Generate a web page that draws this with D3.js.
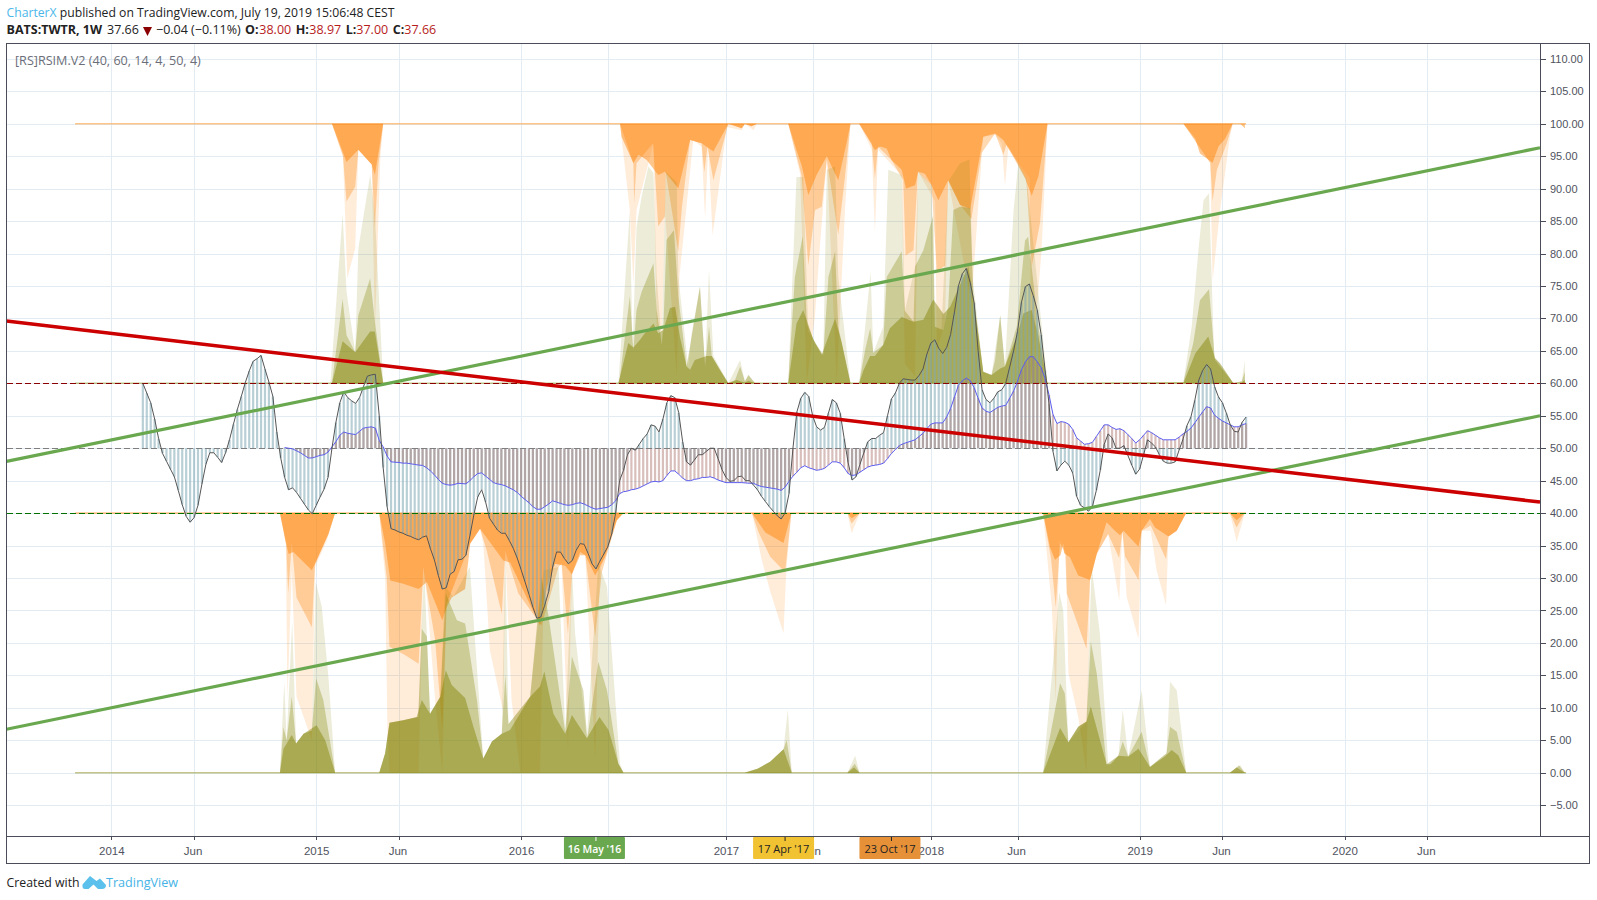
<!DOCTYPE html>
<html><head><meta charset="utf-8">
<script src="https://cdn.jsdelivr.net/npm/d3@7"></script>
<style>
html,body{margin:0;padding:0;background:#fff}
svg{display:block}
text{font-family:"Open Sans","Noto Sans",sans-serif}
.ax text{font-family:"Liberation Sans",Arial,sans-serif}
</style></head><body>
<svg id="c" width="1597" height="900"></svg>
<script>
// Tick data. X is counted in weekly bars from the first bar of 2014.
const xTickWeeks=[0,21,52,73,104,126,156,178,208,230,261,282,313,334];
const xTickLabels=["2014","Jun","2015","Jun","2016","","2017","Jun","2018","Jun","2019","Jun","2020","Jun"];
const yTickValues=[-5,0,5,10,15,20,25,30,35,40,45,50,55,60,65,70,75,80,85,90,95,100,105,110];
const levels=[[60,"#8b0000"],[50,"#7f7f7f"],[40,"#007000"]];
const markerWeeks=[123,171,198];
const markerLabels=["16 May '16","17 Apr '17","23 Oct '17"];

// RSI: one value per week starting at week 8
const rsiStart=8;
const rsiValues=[60,58.5,57,54.5,51.5,49.2,48,46.8,45.6,43.5,41.3,39.5,38.6,39.3,41.2,44.5,47.5,49.3,49.3,48.6,47.8,49.3,51.3,53.7,56,58,60.1,61.9,63.4,63.8,64.3,62.2,60.2,58,52.5,48.5,45.5,43.6,43.9,43.2,42.3,41.4,40.5,39.9,41.2,42.5,43.7,45.5,50,54,57,58.7,57.8,57.3,56.9,57.8,59.5,61.1,61.3,61.4,55,47,41,37.6,37.4,37.1,36.9,36.6,36.4,36.1,35.9,36.3,36.5,34.5,32.8,30.4,28.3,28.5,30.6,31,32.8,32.9,33.5,36.5,39.7,42.5,43.6,41.7,39.2,38.3,37.4,36.9,36.9,35.8,34.6,33.1,31.3,29.4,27.5,25.5,23.8,24,25.8,27.9,31.7,34,34,33,32.2,32.7,34.3,35.3,35.2,33.8,32.2,31.4,32.6,33.7,34.8,36.8,40,45,46.6,49,50,49.7,50.6,51.5,52.2,53.6,53.4,52.5,54.5,57,58.1,57.8,55.5,51,47.9,47.4,48.2,49,49,49.5,50,50,48.4,46.7,45.5,44.9,45,45.6,45.7,45,45,44.3,43.6,42.6,41.8,41,40.3,39.6,39.1,40,43,50,55.6,57.7,58.6,58,55,53.3,52.8,53.2,55.4,57.5,57,55.4,51.5,47.8,45.1,45.6,47.5,49.3,51,51.5,51.5,52,52.4,55,57.6,58.5,60,60.7,60.6,60.5,60.5,61.2,62.2,64.5,66.2,66.7,65.4,64.6,65.5,67.5,71,75,76.9,77.7,75.5,72.4,65,59,57.5,57,57.7,58.7,59,60,62.5,65,68,72.5,74.9,75.3,73.5,71.3,67.5,62,56.8,49.5,46.5,47.4,48,47.4,46.2,42.6,41.2,40.8,40.3,41,43.5,46.6,50.6,52.2,51.6,50,50,50.4,48.9,47.4,46,46.8,49,51.3,50.8,50.2,49,48,47.7,47.7,47.9,49.7,51.4,53.5,54.8,57.4,60.5,62,62.9,62.2,59.5,57.9,57,55.4,53.6,52.6,52.5,54,54.8];

// RSI moving average: one value per week starting at week 44
const maStart=44;
const maValues=[50.1,50,49.9,49.6,49.3,48.9,48.5,48.5,48.7,48.9,49,49.4,50.2,51,52,52.5,52.3,52.2,52.1,52.6,53.1,53.2,53.3,53.1,51.2,50.2,48.8,47.9,47.85,47.8,47.7,47.7,47.6,47.5,47.4,47.35,47,46.5,45.9,45.2,44.6,44.4,44.3,44.4,44.6,44.55,44.5,45,45.6,46.1,46.2,45.7,45.2,44.7,44.5,44.4,44.2,43.9,43.6,43.2,42.6,42.1,41.6,41,40.6,40.6,41,41.4,41.9,41.7,41.5,41.3,41.2,41.3,41.5,41.6,41.4,41.1,40.8,40.6,40.7,40.8,40.9,41.3,41.9,43,43.3,43.4,43.6,43.7,43.9,44.2,44.5,44.8,44.9,44.8,45,45.8,46.5,46.5,46,45.4,45,45,45.2,45.3,45.5,45.5,45.6,45.4,45.1,44.9,44.7,44.7,44.7,44.7,44.7,44.65,44.6,44.6,44.3,44.1,44,43.9,43.8,43.7,43.5,44,44.9,45.7,46.3,47,47.3,47,46.8,46.6,46.7,46.9,47.4,47.9,47.9,47.7,47,46.1,45.8,45.9,46.3,46.7,47.1,47.3,47.4,47.5,47.7,48.4,49.2,49.8,50.4,50.7,50.9,51.1,51.3,51.8,52.3,53,53.7,53.9,53.9,53.9,54.8,56.1,57.9,59.7,60.4,60.8,60.4,59.3,57.7,56.2,55.7,55.5,55.9,56.3,56.5,56.6,57.7,58.8,60.3,62.1,63.3,64.1,64.1,63.3,62.4,60.7,58.2,55.2,53.8,54.1,54,53.7,52.9,51.6,51.1,50.6,50.7,50.9,51.8,52.7,53.6,53.6,53.2,52.9,53,52.7,52.1,51.5,50.8,51.3,52,52.7,52.4,52,51.6,51.3,51.3,51.3,51.3,51.7,52.2,52.6,53.1,53.9,54.8,55.6,56.4,56.2,55.1,54.6,54.2,53.9,53.6,53.3,53.3,53.6,53.8];

// Areas hanging from 100: [week, value]
const orangeTopDark=[[-9.2,100],[56,100],[57.2,98.1],[59.7,94.1],[62.7,96],[66.1,93.7],[66.9,92.1],[69,100],[129.1,100],[129.5,98],[132.5,93.9],[133.8,95.2],[135.9,94.4],[138.8,92.1],[140.5,92.6],[143.9,90],[146.9,97.5],[149.8,97],[152.8,95.7],[156.6,100],[160,99.3],[160.8,100],[162.5,99.6],[163.8,100],[171.8,100],[173.9,95.9],[175.2,93.6],[176.9,89],[179,92.1],[181.6,95],[184.5,91.3],[186.6,97],[187.6,100],[189.8,100],[192.1,97.7],[193.8,95.9],[195.1,96.5],[196.8,96.2],[198,94.4],[200.6,92.9],[201.7,90],[204,90.5],[204.8,92.6],[206.5,92.3],[208.2,90.5],[209.9,88.2],[212.4,91.3],[215.4,87.5],[218,86.9],[221.3,98],[224.3,98.5],[226.4,97.5],[229.4,94.4],[231.9,91.6],[233.6,88.9],[235.3,91.9],[237.6,100],[272.1,100],[275.1,97.7],[276.3,95.4],[279.5,94],[281,96.5],[282.7,97.7],[284.6,100],[286.5,100],[287.7,99.3]];
const orangeTopMid=[[-9.2,100],[56,100],[58.8,95],[59.7,88],[61.9,90.3],[62.7,96],[66.1,93.7],[66.9,83.9],[67.8,93.7],[69,100],[129.1,100],[132.5,93.9],[132.7,87.7],[133.3,93.9],[137.5,97],[138,92.3],[138.8,84.2],[140.5,85.7],[140.7,92.6],[143.9,80.3],[144.8,87],[146.9,97.5],[149.8,97],[150.5,92.5],[151.3,96.5],[152.8,91.3],[156.6,100],[160,99.3],[160.8,100],[162.5,99.6],[163.8,100],[171.8,100],[175.2,92],[176.9,78.2],[178.6,86.7],[180.3,87.2],[181.6,94.5],[184.5,82.9],[186.2,91.8],[187.6,100],[189.8,100],[193,97],[193.8,91.6],[194.6,96.5],[198,94.4],[201,91.3],[201.6,79.7],[203.6,80.5],[204.7,92.6],[208.2,90.5],[209.5,77.3],[211.6,78.1],[212.4,91.3],[215.4,87.5],[218.3,85.3],[220.9,95.5],[224.3,98.5],[226.4,95.2],[227.2,96.8],[230.2,93.9],[232.2,91.6],[233.6,78],[235.7,84.7],[237.6,100],[272.1,100],[278.9,94],[279.5,88],[280.6,92.9],[283.1,97],[284.6,100]];
const orangeTopLight=[[-9.2,100],[56,100],[58.8,95],[59.9,76.2],[61.9,80.8],[62.7,96],[66.1,93.7],[66.9,68],[68.3,95],[69,100],[129.1,100],[131.6,86.7],[132.5,75.4],[133.3,86.7],[137.6,97],[138.4,68.7],[139.7,67.7],[140.5,86.7],[143.5,61],[144.2,76.5],[147.7,97.5],[149.8,96.5],[150.7,85.4],[151.5,96.5],[152.6,82.8],[156.2,99.5],[160,99],[160.8,100],[163,99],[163.8,100],[171.8,100],[174.8,92.3],[176.5,60],[178.6,70.5],[179.9,81.6],[181.6,94.5],[184.1,60],[186.2,86.7],[187.6,100],[189.8,100],[193,96],[193.8,83.4],[194.6,96],[200.6,92],[201.4,63],[204,61],[204.8,92.6],[209.1,88],[209.5,65.1],[211.6,69.2],[212.4,91.3],[218.3,72.3],[220.9,95],[221.3,98],[224.3,98.3],[226,97],[226.8,90.4],[227.7,96.5],[230.2,93.9],[233.1,91.6],[233.4,60],[236.1,80.5],[237.6,100],[272.1,100],[278.9,94],[279.5,75.8],[281.4,86.7],[283.9,98],[284.6,100]];

// Areas rising from 60: [week, value]
const greenHighDark=[[-9.2,60],[56,60],[58.7,66.5],[61.9,64.8],[65.7,68],[66.9,68],[69,60],[128.7,60],[131.2,66.2],[132.5,65.5],[134.2,66.7],[135.4,67.7],[137.6,69.2],[138.8,67.7],[140.1,68.2],[141.8,71.6],[143.1,71.8],[144.3,67.2],[146,62.6],[146.9,62.1],[148.1,63.6],[151.1,64.2],[152.4,64.2],[154.5,62],[156.6,60],[158.7,60.5],[160.8,60.1],[161.7,60.4],[163.4,60],[171.8,60],[173.9,69.2],[175.6,71.3],[178.2,66.7],[180.3,64.4],[183.7,70],[185.4,66.2],[187.6,60],[189.8,60],[190.9,62],[192.6,64.2],[193.8,64.2],[195.9,65.9],[197.6,68.5],[200.6,70.2],[203.6,69.5],[206.1,69.8],[208.6,72.9],[211.2,70.7],[212.9,71.8],[217.5,78],[218.8,73.4],[221.3,61.8],[223.4,61.3],[225.6,62.3],[226.8,62.6],[229.8,67.2],[231.5,70.8],[233.6,71.3],[235.3,67.2],[237.6,60],[272.1,60],[275.1,64.6],[278.4,67.2],[280.1,63.9],[281.4,63.1],[284.8,60],[286.7,60],[287.7,60.5]];
const greenHighMid=[[-9.2,60],[56,60],[58.7,73],[59.7,67.4],[61.9,64.8],[62.7,70.5],[65.7,76.2],[66.9,69.5],[69,60],[128.7,60],[129.1,61],[131.6,73.4],[132.5,65.1],[133.3,71.3],[134.6,74.1],[137.6,78.5],[138.4,71.3],[139.7,65.9],[140.1,68.2],[140.9,82.1],[142.8,83.6],[143.9,73.4],[146,62.6],[147.3,67.2],[149.4,74.9],[150.7,62.6],[151.7,68.7],[152.4,64.2],[156.6,60],[158.3,60.5],[159.6,62.6],[160.8,60.3],[161.7,61.3],[163.4,60],[171.8,60],[173.5,76.4],[175.5,82.7],[176.5,69.2],[178.6,66.2],[180.7,64.4],[182,76.4],[183.7,80.3],[184.5,68.7],[187.6,60],[189.8,60],[191.3,65.1],[192.6,68.5],[193.4,64.7],[195.9,65.9],[196.8,76.4],[200.6,80.3],[201.4,71.2],[203.6,69.5],[204,78],[206.1,80.5],[208.6,85.9],[209,68.7],[211.2,68.2],[212.4,71.8],[213.7,86.7],[215.4,87.2],[218,87],[218.8,73.4],[221.3,61.8],[223.4,61.3],[224.3,63.6],[225.6,70.5],[226.8,62.6],[229.8,68.7],[231.9,82],[232.7,82.6],[235.3,68.7],[237.6,60],[272.1,60.2],[274.6,66.2],[276.3,72.8],[278.6,74.5],[280.1,63.6],[284.8,60],[286.9,60.3],[287.7,61.8]];
const greenHighLight=[[-9.2,60],[55.6,60],[58.7,86.1],[59.7,74.1],[61.9,64.8],[62.7,80.8],[65.7,92.1],[66.9,86],[69,60],[128.7,60],[131.6,86.7],[132.3,65],[133.3,84.1],[134.6,88.8],[136.3,93.4],[137.6,92.4],[138.4,76.5],[139.7,66],[140.7,92.6],[143.5,91],[143.9,76.5],[146.4,62.6],[147.3,67.7],[149.4,74.9],[150.7,62.6],[151.7,77.5],[152.8,64.2],[156.6,60],[159.6,63.6],[160.8,60.3],[161.7,61.3],[163.4,60],[171.8,60],[173.9,91.8],[175.6,91.8],[176.9,68],[178.6,66.4],[180.7,64.2],[181.6,92.9],[183.7,93.4],[184.5,76.4],[187.6,60],[189.8,60],[191.3,68.5],[192.7,77.2],[193.4,64.7],[195.9,68.7],[197.2,92.9],[200.6,92.1],[201.4,71.2],[204,78],[204.8,92.6],[208.2,90.5],[209,68.7],[210.7,68.2],[212.4,91.1],[215.4,93.9],[217.8,94.5],[218.6,76.4],[221.3,61.8],[223.4,61.3],[224.3,65.1],[225.6,70.5],[226.8,62.6],[229,86.7],[230.2,93.9],[232.3,91.6],[234,81.6],[237.6,60],[272.1,60.2],[274.2,68.7],[275.9,80.5],[277.2,88.2],[278.6,89.3],[279.9,64],[284.8,60],[286.9,60.3],[287.7,63.6]];

// Areas hanging from 40: [week, value]
const orangeLowDark=[[-9.2,40],[42.8,40],[44.5,35],[45,33.7],[46.2,34],[50.9,31.2],[52.1,32.7],[55.1,36.8],[56.8,40],[68,40],[69.5,35.3],[70.8,29.6],[74.1,29.1],[78,28.3],[80.1,29.4],[84,23.5],[85.1,25.5],[86.4,27],[89.8,28.3],[91.1,35.3],[93.6,37.6],[99.5,32.7],[101.2,32.4],[108.8,22.7],[110.5,28.6],[112.6,32.2],[115.2,31.9],[116.9,30.6],[119,34],[120.3,33.5],[122.8,30.4],[125.3,33.2],[128.3,38.9],[130,40],[162.6,40],[166,37],[170.6,35.4],[172.6,40],[186.8,40],[187.9,39.2],[190,40],[236.5,40],[238.2,34.8],[239.5,32.8],[240.9,33.5],[241.6,35.3],[241.8,33.8],[243.3,33.2],[245.4,30.4],[248.4,29.7],[250.1,33.7],[252.6,38.6],[254.7,37.3],[256,36.6],[256.9,37.3],[260.7,34.8],[261.5,37.3],[263.6,39.1],[264.9,37.8],[268.3,36.4],[270.4,37.3],[272.8,40],[283.9,40],[285.6,38.9],[287.7,40]];
const orangeLowMid=[[-9.2,40],[42.8,40],[44.4,35],[44.9,27.6],[45.8,35.5],[47,27],[50.9,22.4],[51.7,32.2],[55.1,36.8],[56.8,40],[68,40],[69.9,30.1],[70.6,19.4],[74.1,18.3],[78,16.8],[79.2,31.7],[80.2,27.6],[82.2,20.4],[84,6.6],[85.1,26],[91.1,35.3],[93.6,37.6],[95.3,34.2],[99.1,24.5],[100,34.2],[100.8,32.5],[103.3,27.6],[109.2,22.7],[113.5,31.7],[114.3,32.2],[115.9,21.4],[116.9,30.6],[119,33.5],[120.3,33.5],[122.8,20.9],[124.5,30.9],[128.3,38.9],[130,40],[162.6,40],[164.3,37],[167.2,33.3],[171,30.9],[172.6,40],[186.8,40],[187.9,38.4],[190,40],[236.5,40],[238.5,33],[239.7,25.5],[240.8,35.3],[242.1,33.8],[242.5,27.6],[247.5,19.1],[248.4,29.7],[250.1,33.7],[253,36.8],[255.8,33.1],[256.6,37.3],[257.3,33.3],[260.7,29.7],[261.5,37.3],[263.8,38.1],[267.7,32.9],[268.3,36.4],[270.4,37.3],[272.8,40],[283.9,40],[285.6,37.8],[287.7,40]];
const orangeLowLight=[[-9.2,40],[42.8,40],[44.3,35.3],[44.7,11.1],[45.8,31.2],[47,11.7],[50.9,5],[51.7,31.7],[54.7,35.8],[56.8,40],[68,40],[69.5,30.1],[70.1,6],[70.6,0],[78,0],[79.2,31.7],[80.2,26.5],[82.2,11.1],[84,0],[85.1,26],[91.1,35.3],[93.6,37.6],[94.4,35.3],[96.1,18.8],[99.5,9.3],[100,33.7],[101.6,11.1],[103.8,0],[108.8,0],[109.7,26.5],[112.6,32.2],[114.3,32],[115.9,3.5],[116.9,30.6],[119,33.5],[120.3,33.5],[122.8,2],[124,31.2],[128.3,38.9],[130,40],[162.6,40],[165,33],[167.2,28],[170.6,21.5],[171.3,31],[172.6,40],[186.8,40],[187.9,36.9],[190,40],[236.5,40],[238.7,25.5],[239.7,10.9],[240.6,35.8],[242.3,33.8],[242.9,15.3],[245.4,8.6],[247.5,0],[248.4,29.7],[250.1,33.7],[253,36.8],[255.8,26.5],[256.6,37.3],[257.7,27.1],[260.7,20.6],[261.5,37.3],[263.8,37.3],[265.3,31.2],[267.7,25.8],[268.3,36.4],[270.4,37.3],[272.8,40],[283.9,40],[285.6,35.6],[287.7,40]];

// Areas rising from 0: [week, value]
const greenLowDark=[[-9.2,0],[42.8,0],[43.7,3.7],[45.8,5.8],[46.9,4.5],[48.8,6],[52.1,7.3],[54.3,5],[56.8,0],[68,0],[69.5,3],[70.6,7.7],[74.1,8.1],[77.5,8.6],[78.8,11.2],[80.9,9.1],[83.5,11.7],[84.9,15.8],[86.4,13.5],[89.8,11.5],[91.9,7.1],[94.4,2.2],[96.6,4.8],[99.1,6],[101.2,6.6],[106.3,11.7],[108.8,13.3],[109.9,15.6],[112.2,9.1],[115.2,6],[116.9,8.9],[120.7,5.3],[123.9,8.6],[126.2,6.6],[128.7,1.4],[130,0],[160.7,0],[164,0.6],[167.2,1.7],[170.6,3.6],[172.7,0],[186.8,0],[188.5,0.8],[189.9,0],[236.5,0],[240.8,6.9],[242.9,4.7],[245.4,7.1],[247.5,7.9],[248.6,10.2],[252.6,1.3],[253.6,1.3],[255.6,2.6],[258.1,2.5],[260.7,3.7],[263.6,0.9],[267.4,2.5],[269.1,3.5],[270.8,2.7],[272.8,0],[283.9,0],[285.6,0.8],[287.7,0]];
const greenLowMid=[[-9.2,0],[42.8,0],[43.7,7],[44.5,5],[45.8,11.7],[46.9,4.5],[48.8,6],[50.9,6.5],[52,14.5],[53.8,11.2],[56.8,0],[68,0],[69.5,3],[70.6,7.7],[74.1,8.1],[77.9,8.6],[78.8,22.2],[80.1,21],[80.9,9.1],[83.5,11.7],[84.9,27.6],[87.7,23.5],[89.8,23],[92.8,11.2],[94.4,2.2],[96.6,4.8],[99.1,6],[100,15],[100.8,7.5],[106.3,11.7],[109.2,30.2],[111,24],[115.2,6.3],[116.9,17.9],[119.8,12.7],[120.8,5.3],[123.6,17.1],[125.8,12.7],[128.7,1.4],[130,0],[160.7,0],[164,0.6],[167.2,1.7],[170.6,3.6],[171.4,5],[172.7,0],[186.8,0],[188.7,1.4],[189.9,0],[236.5,0],[240.8,13.8],[242,12.2],[242.9,4.7],[245.4,7.1],[247.5,7.9],[248.6,20.2],[250.1,15.3],[252.6,1.3],[255.6,2.6],[256.7,4.8],[258.1,2.5],[261.5,6.3],[263.6,0.9],[267.8,3],[268.7,7.1],[270.4,6.3],[272.8,0],[283.9,0],[286.2,1.1],[287.7,0]];
const greenLowLight=[[-9.2,0],[42.8,0],[43.9,14],[44.5,5],[45.9,23.3],[46.9,4.5],[48.8,6],[50.9,6.5],[51.9,29.4],[53.4,25.6],[55.1,14.8],[56.8,0],[68,0],[69.5,3],[70.6,7.7],[74.1,8.1],[77.9,8.6],[79.4,31.7],[80.1,21],[80.9,9.1],[83.5,11.7],[84.7,28.7],[86.8,27.1],[91,31.7],[94.4,2.2],[96.6,4.8],[99.1,6],[100,34.3],[100.8,7.5],[106.3,11.7],[109.7,31.2],[113.5,31.7],[115.2,6.3],[116.9,31.7],[117.7,21.5],[120.7,5.3],[123.6,32.3],[125.8,28.7],[129.1,1.4],[130,0],[160.7,0],[164,0.6],[167.2,1.7],[170.6,3.6],[171.7,9.7],[172.7,0],[186.8,0],[188.8,2.6],[189.9,0],[236.5,0],[240.6,27.8],[241.6,25],[242.9,4.7],[247.5,7.9],[248.8,31.7],[250.9,21.5],[253,1.4],[255.6,2.6],[256.7,9.7],[258.1,2.5],[261.5,12.7],[263.6,0.9],[267.8,3],[268.7,14],[270.4,12.7],[272.8,0],[283.9,0],[286.5,1.2],[287.7,0]];

// Trend lines: [week, value] at both ends
const trendRed=[[-26.6,69.6],[362.6,41.7]];
const trendGreenUpper=[[-26.6,47.97],[362.6,96.3]];
const trendGreenLower=[[-26.6,6.7],[362.6,55]];

const svg=d3.select("#c");
const x=d3.scaleLinear().domain([-26.6,362.6]).range([6.5,1540]);
const y=d3.scaleLinear().domain([-9.75,112.36]).range([836,43.5]);
const AX="#4a4c58",GRID="#e3ecf3";

// grid
const g=svg.append("g").attr("shape-rendering","crispEdges");
g.selectAll(".h").data(yTickValues).join("line").attr("x1",x.range()[0]).attr("x2",x.range()[1])
  .attr("y1",d=>Math.round(y(d))+.5).attr("y2",d=>Math.round(y(d))+.5).attr("stroke",GRID);
g.selectAll(".v").data(xTickWeeks).join("line").attr("y1",y.range()[1]).attr("y2",y.range()[0])
  .attr("x1",d=>Math.round(x(d))+.5).attr("x2",d=>Math.round(x(d))+.5).attr("stroke",GRID);

// areas
function area(pts,base,col,op){
  svg.append("path").datum(pts)
    .attr("d",d3.area().x(d=>x(d[0])).y0(y(base)).y1(d=>y(d[1])))
    .attr("fill",col).attr("fill-opacity",op);
}
const OR="#ff8000",OL="#808000",alphas=[.15,.3,.45];
[[orangeTopLight,orangeTopMid,orangeTopDark,100,OR],[greenHighLight,greenHighMid,greenHighDark,60,OL],
 [orangeLowLight,orangeLowMid,orangeLowDark,40,OR],[greenLowLight,greenLowMid,greenLowDark,0,OL]]
 .forEach(s=>{[0,1,2].forEach(i=>area(s[i],s[3],s[4],alphas[i]));
   svg.append("line").attr("x1",x(s[0][0][0])).attr("x2",x(288)).attr("y1",y(s[3])).attr("y2",y(s[3]))
     .attr("stroke",s[4]).attr("stroke-opacity",.45).attr("stroke-width",1.6);});

// histograms
const rsi=rsiValues.map((v,i)=>[rsiStart+i,v]);
const ma=maValues.map((v,i)=>[maStart+i,v]);
function bars(data,col,op){
  svg.append("g").selectAll("rect").data(data).join("rect")
    .attr("x",d=>x(d[0])-1.1).attr("width",2.2)
    .attr("y",d=>y(Math.max(d[1],50))).attr("height",d=>Math.abs(y(d[1])-y(50)))
    .attr("fill",col).attr("fill-opacity",op);
}
bars(rsi,"#7fa8b4",.55);
bars(ma,"#a9726a",.45);

// level lines
svg.selectAll(".lvl").data(levels).join("line").attr("x1",x.range()[0]).attr("x2",x.range()[1])
  .attr("y1",d=>Math.round(y(d[0]))+.5).attr("y2",d=>Math.round(y(d[0]))+.5).attr("stroke",d=>d[1])
  .attr("shape-rendering","crispEdges").attr("stroke-width",1).attr("stroke-dasharray","6 3");

// lines
const ln=d3.line().x(d=>x(d[0])).y(d=>y(d[1]));
svg.append("path").datum(ma).attr("d",ln).attr("fill","none").attr("stroke","#5c5cf0").attr("stroke-width",1);
svg.append("path").datum(rsi).attr("d",ln).attr("fill","none").attr("stroke","#555").attr("stroke-width",1);
[[trendGreenUpper,"#6aa84f",3.2],[trendGreenLower,"#6aa84f",3.2],[trendRed,"#cc0000",3.6]].forEach(t=>
  svg.append("path").datum(t[0]).attr("d",ln).attr("fill","none").attr("stroke",t[1]).attr("stroke-width",t[2]));

// axes
const ya=svg.append("g").attr("class","ax").attr("transform",`translate(${x.range()[1]},0)`)
  .call(d3.axisRight(y).tickValues(yTickValues).tickSize(6).tickPadding(4).tickFormat(d=>d3.format(".2f")(d).replace("-","\u2212")));
ya.select(".domain").remove();
ya.selectAll("line").attr("stroke",AX).attr("shape-rendering","crispEdges");
ya.selectAll("text").attr("fill","#50535e").style("font-size","11px");
const xa=svg.append("g").attr("class","ax").attr("transform",`translate(0,${y.range()[0]})`)
  .call(d3.axisBottom(x).tickValues(xTickWeeks).tickSize(4).tickPadding(7).tickFormat((d,i)=>xTickLabels[i]));
xa.select(".domain").remove();
xa.selectAll("line").attr("stroke",AX).attr("shape-rendering","crispEdges");
xa.selectAll("text").attr("fill","#50535e").attr("dx",(d,i)=>xTickLabels[i]==="Jun"?-1.5:0).style("font-size","11.5px");

// frame
const fr=svg.append("g").attr("stroke",AX).attr("fill","none").attr("shape-rendering","crispEdges");
fr.append("rect").attr("x",6.5).attr("y",43.5).attr("width",1583).attr("height",819.5);
fr.append("line").attr("x1",6.5).attr("x2",1590).attr("y1",836.5).attr("y2",836.5);
fr.append("line").attr("x1",1540.5).attr("x2",1540.5).attr("y1",43.5).attr("y2",836.5);

// date markers
const markerFill=["#6aa84f","#f1c232","#e69138"],markerText=["#fff","#222","#222"];
const mk=svg.selectAll(".mk").data(markerWeeks).join("g").attr("transform",d=>`translate(${x(d)},837)`);
mk.append("rect").attr("x",-32).attr("y",0).attr("width",61).attr("height",22).attr("rx",1).attr("fill",(d,i)=>markerFill[i]);
mk.append("line").attr("y1",0).attr("y2",4).attr("stroke",(d,i)=>markerText[i]);
mk.append("text").attr("x",-1.5).attr("y",15.5).attr("text-anchor","middle").attr("fill",(d,i)=>markerText[i])
  .attr("font-weight",(d,i)=>i==0?600:400).style("font-size",(d,i)=>i==0?"10.5px":"11px").text((d,i)=>markerLabels[i]);

// legend
svg.append("text").attr("x",15).attr("y",65).attr("fill","#6b6e78").style("font-size","12.6px").text("[RS]RSIM.V2 (40, 60, 14, 4, 50, 4)");

// header
const t1=svg.append("text").attr("x",6.5).attr("y",17).style("font-size","12.2px").attr("fill","#222");
t1.append("tspan").attr("fill","#4bb7e9").text("CharterX");
t1.append("tspan").text(" published on TradingView.com, July 19, 2019 15:06:48 CEST");
function hd(px,s,col,b){svg.append("text").attr("x",px).attr("y",34).style("font-size","12.5px").attr("fill",col).attr("font-weight",b?700:400).text(s);}
hd(6.5,"BATS:TWTR, 1W","#222",1);hd(107,"37.66","#222");
svg.append("path").attr("d","M143 27h9l-4.5 9z").attr("fill","#8b0000");
hd(156,"\u22120.04 (\u22120.11%)","#222");
[[245,"O:",259.3,"38.00"],[295.7,"H:",309.3,"38.97"],[345.7,"L:",356.3,"37.00"],[392.7,"C:",404.3,"37.66"]].forEach(a=>{
  hd(a[0],a[1],"#222",1);hd(a[2],a[3],"#b71c1c");});

// footer
svg.append("text").attr("x",6.5).attr("y",887).style("font-size","12.3px").attr("fill","#222").text("Created with");
svg.append("path").attr("d","M82.5 884.5L90 876L96.5 881L100 878.5L106 885Q106 889 102 889L98 889L93.5 884.5L88.5 889L85 889Q82 889 82.5 884.5z").attr("fill","#5bc0eb");
svg.append("text").attr("x",106).attr("y",887).style("font-size","12.6px").attr("fill","#46b3e6").text("TradingView");
</script>
</body></html>
